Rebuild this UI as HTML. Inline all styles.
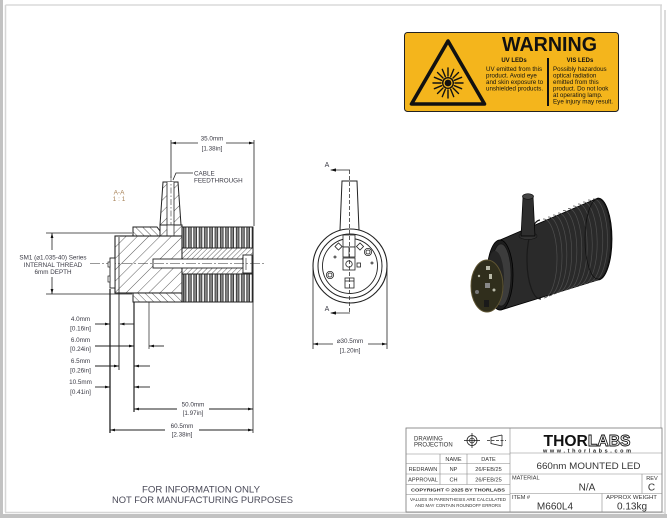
<!DOCTYPE html>
<html><head><meta charset="utf-8"><style>
html,body{margin:0;padding:0;background:#fff;}
svg{display:block}
text{font-family:"Liberation Sans",sans-serif;}
</style></head><body>
<svg width="667" height="518" viewBox="0 0 667 518" xmlns="http://www.w3.org/2000/svg">
<defs>
<pattern id="h1" width="8" height="8" patternUnits="userSpaceOnUse" patternTransform="rotate(45)"><rect width="8" height="8" fill="#fff"/><line x1="0" y1="0" x2="0" y2="8" stroke="#333" stroke-width="0.8"/></pattern>
<pattern id="h2" width="3.5" height="3.5" patternUnits="userSpaceOnUse" patternTransform="rotate(45)"><rect width="4" height="4" fill="#fff"/><line x1="0" y1="0" x2="0" y2="4" stroke="#333" stroke-width="0.8"/></pattern>
<pattern id="h3" width="5" height="5" patternUnits="userSpaceOnUse" patternTransform="rotate(-45)"><rect width="5" height="5" fill="#fff"/><line x1="0" y1="0" x2="0" y2="5" stroke="#333" stroke-width="0.8"/></pattern>
<pattern id="fin" x="182" y="0" width="5.3" height="20" patternUnits="userSpaceOnUse"><rect width="5.3" height="20" fill="#fff"/><rect x="1.2" y="-1" width="2.8" height="22" fill="#8a8a8a" stroke="#111" stroke-width="0.7"/></pattern>
</defs>

<!-- page frame -->
<rect x="0" y="0" width="3" height="518" fill="#c2c2c2"/>
<rect x="0" y="514" width="667" height="4" fill="#c2c2c2"/>
<line x1="5.5" y1="5" x2="662" y2="5" stroke="#dadada" stroke-width="1.5"/>
<line x1="5.5" y1="5" x2="5.5" y2="512" stroke="#d6d6d6" stroke-width="1.5"/>
<line x1="5" y1="512.5" x2="664" y2="512.5" stroke="#d6d6d6" stroke-width="1.5"/>
<line x1="661" y1="5" x2="661" y2="512" stroke="#d6d6d6" stroke-width="1.5"/>
<line x1="665" y1="10" x2="665" y2="514" stroke="#cfcfcf" stroke-width="1.5"/>

<!-- WARNING label -->
<rect x="404.5" y="32.5" width="214" height="79" rx="3" fill="#f4b51c" stroke="#222" stroke-width="1"/>
<polygon points="448,41 411.5,104 484.5,104" fill="none" stroke="#111" stroke-width="3.6" stroke-linejoin="round"/>
<g stroke="#111" stroke-width="1.4" stroke-linecap="round">
<line x1="448" y1="76" x2="448" y2="68"/><line x1="448" y1="90" x2="448" y2="98"/>
<line x1="441" y1="83" x2="433" y2="83"/><line x1="455" y1="83" x2="463" y2="83"/>
<line x1="443" y1="78" x2="437.5" y2="72.5"/><line x1="453" y1="78" x2="458.5" y2="72.5"/>
<line x1="443" y1="88" x2="437.5" y2="93.5"/><line x1="453" y1="88" x2="458.5" y2="93.5"/>
<line x1="445.3" y1="76.6" x2="442.3" y2="69.4"/><line x1="450.7" y1="76.6" x2="453.7" y2="69.4"/>
<line x1="445.3" y1="89.4" x2="442.3" y2="96.6"/><line x1="450.7" y1="89.4" x2="453.7" y2="96.6"/>
<line x1="441.6" y1="80.3" x2="434.4" y2="77.3"/><line x1="454.4" y1="80.3" x2="461.6" y2="77.3"/>
<line x1="441.6" y1="85.7" x2="434.4" y2="88.7"/><line x1="454.4" y1="85.7" x2="461.6" y2="88.7"/>
</g>
<circle cx="448" cy="83" r="6" fill="#111"/>
<circle cx="448" cy="83" r="4.6" fill="#f4b51c"/>
<circle cx="448" cy="83" r="3.4" fill="#111"/>
<text x="549.5" y="51" font-size="20.5" font-weight="bold" text-anchor="middle" textLength="95" lengthAdjust="spacingAndGlyphs" fill="#111">WARNING</text>
<line x1="548" y1="58" x2="548" y2="106" stroke="#111" stroke-width="2"/>
<text x="514" y="62" font-size="6" font-weight="bold" text-anchor="middle" fill="#111">UV LEDs</text>
<text x="580" y="62" font-size="6" font-weight="bold" text-anchor="middle" fill="#111">VIS LEDs</text>
<g font-size="6.2" fill="#111">
<text x="486" y="71">UV emitted from this</text>
<text x="486" y="77.5">product. Avoid eye</text>
<text x="486" y="84">and skin exposure to</text>
<text x="486" y="90.5">unshielded products.</text>
<text x="553" y="71">Possibly hazardous</text>
<text x="553" y="77.5">optical radiation</text>
<text x="553" y="84">emitted from this</text>
<text x="553" y="90.5">product. Do not look</text>
<text x="553" y="97">at operating lamp.</text>
<text x="553" y="103.5" textLength="60" lengthAdjust="spacingAndGlyphs">Eye injury may result.</text>
</g>

<!-- SECTION VIEW A-A -->
<g fill="#3a3a44" font-size="6.3">
<text x="212" y="140.5" text-anchor="middle">35.0mm</text>
<text x="212" y="150.5" text-anchor="middle">[1.38in]</text>
<text x="194" y="175.5">CABLE</text>
<text x="194" y="182.5">FEEDTHROUGH</text>
</g>
<text x="119" y="194.5" font-size="6.5" text-anchor="middle" fill="#a9845a">A-A</text>
<text x="119" y="201" font-size="6.5" text-anchor="middle" fill="#a9845a">1 : 1</text>
<g stroke="#222" stroke-width="0.8" fill="none">
<line x1="171" y1="140" x2="171" y2="178"/>
<line x1="254" y1="140" x2="254" y2="226"/>
<line x1="171" y1="143" x2="198" y2="143"/>
<line x1="226" y1="143" x2="254" y2="143"/>
<polyline points="193,173 176,173 173,180"/>
</g>
<polygon points="171,143 176,141.6 176,144.4" fill="#111"/>
<polygon points="254,143 249,141.6 249,144.4" fill="#111"/>

<!-- tube -->
<polygon points="163,182 178,182 181,225 160,225" fill="url(#h1)" stroke="#222" stroke-width="1"/>
<rect x="167" y="182" width="7" height="43" fill="#fff"/>
<line x1="167" y1="182" x2="167" y2="236" stroke="#222" stroke-width="0.8"/>
<line x1="174" y1="182" x2="174" y2="236" stroke="#222" stroke-width="0.8"/>
<line x1="171" y1="176" x2="171" y2="236" stroke="#333" stroke-width="0.6" stroke-dasharray="6,2,1.5,2"/>
<rect x="160" y="225" width="22" height="11" fill="url(#h1)" stroke="#222" stroke-width="1"/>
<rect x="167" y="225" width="7" height="11" fill="#fff" stroke="#222" stroke-width="0.7"/>
<!-- top ring -->
<polygon points="133,227 157,227 160,231 160,236 133,236" fill="url(#h3)" stroke="#222" stroke-width="1"/>
<!-- main block -->
<rect x="115" y="236" width="67" height="57" fill="url(#h1)" stroke="#222" stroke-width="1.1"/>
<line x1="119" y1="237" x2="119" y2="292" stroke="#222" stroke-width="0.8"/>
<!-- bottom ring -->
<rect x="133" y="293" width="49" height="9" fill="url(#h3)" stroke="#222" stroke-width="1"/>
<!-- heat sink -->
<rect x="182" y="227" width="71" height="21" fill="url(#fin)"/>
<rect x="182" y="274" width="71" height="28" fill="url(#fin)"/>
<rect x="182" y="248" width="71" height="26" fill="url(#h2)" stroke="#222" stroke-width="1"/>
<rect x="182" y="227" width="71" height="75" fill="none" stroke="#222" stroke-width="1"/>
<!-- screw -->
<rect x="153" y="259" width="90" height="9" fill="#fff" stroke="#222" stroke-width="0.9"/>
<rect x="243" y="255" width="9" height="18" fill="#fff" stroke="#222" stroke-width="0.9"/>
<line x1="246" y1="258" x2="246" y2="270" stroke="#222" stroke-width="0.6"/>
<line x1="90" y1="263.5" x2="266" y2="263.5" stroke="#333" stroke-width="0.6" stroke-dasharray="10,2,2,2"/>
<!-- LED board -->
<rect x="110" y="258" width="5" height="30" fill="#fff" stroke="#222" stroke-width="0.9"/>
<rect x="108" y="262" width="2" height="5" fill="#fff" stroke="#222" stroke-width="0.7"/>
<rect x="108" y="276" width="2" height="6" fill="#fff" stroke="#222" stroke-width="0.7"/>

<!-- SM1 dim -->
<g stroke="#222" stroke-width="0.8">
<line x1="46" y1="233" x2="132" y2="233"/>
<line x1="46" y1="294" x2="132" y2="294"/>
<line x1="52" y1="233" x2="52" y2="250"/>
<line x1="52" y1="277" x2="52" y2="294"/>
</g>
<polygon points="52,233 50.6,238 53.4,238" fill="#111"/>
<polygon points="52,294 50.6,289 53.4,289" fill="#111"/>
<g fill="#3a3a44" font-size="6.3" text-anchor="middle">
<text x="53" y="259.5">SM1 (⌀1.035-40) Series</text>
<text x="53" y="266.8">INTERNAL THREAD</text>
<text x="53" y="274">6mm DEPTH</text>
</g>

<!-- bottom dims -->
<g stroke="#222" stroke-width="0.9">
<line x1="110" y1="289" x2="110" y2="433" stroke-width="1.3"/>
<line x1="119" y1="292" x2="119" y2="370"/>
<line x1="134" y1="302" x2="134" y2="412" stroke-width="1.2"/>
<line x1="149" y1="302" x2="149" y2="349" stroke-width="0.7"/>
<line x1="253" y1="302" x2="253" y2="433" stroke-width="0.8"/>
<line x1="95" y1="324" x2="110" y2="324"/>
<line x1="120" y1="324" x2="134" y2="324"/>
<line x1="95" y1="346" x2="134" y2="346"/>
<line x1="149" y1="346" x2="164" y2="346"/>
<line x1="95" y1="366" x2="119" y2="366"/>
<line x1="134" y1="366" x2="150" y2="366"/>
<line x1="95" y1="387" x2="110" y2="387"/>
<line x1="134" y1="387" x2="150" y2="387"/>
<line x1="134" y1="409" x2="177" y2="409"/>
<line x1="209" y1="409" x2="253" y2="409"/>
<line x1="110" y1="430" x2="165" y2="430"/>
<line x1="199" y1="430" x2="253" y2="430"/>
</g>
<g fill="#111">
<polygon points="110,324 105,322.6 105,325.4"/>
<polygon points="119.5,324 124.5,322.6 124.5,325.4"/>
<polygon points="134,346 129,344.6 129,347.4"/>
<polygon points="149,346 154,344.6 154,347.4"/>
<polygon points="119,366 114,364.6 114,367.4"/>
<polygon points="134,366 139,364.6 139,367.4"/>
<polygon points="110,387 105,385.6 105,388.4"/>
<polygon points="134,387 139,385.6 139,388.4"/>
<polygon points="134,409 139,407.6 139,410.4"/>
<polygon points="253,409 248,407.6 248,410.4"/>
<polygon points="110,430 115,428.6 115,431.4"/>
<polygon points="253,430 248,428.6 248,431.4"/>
</g>
<g fill="#3a3a44" font-size="6.3" text-anchor="middle">
<text x="80.5" y="321">4.0mm</text><text x="80.5" y="330.5">[0.16in]</text>
<text x="80.5" y="342">6.0mm</text><text x="80.5" y="351">[0.24in]</text>
<text x="80.5" y="363">6.5mm</text><text x="80.5" y="372.5">[0.26in]</text>
<text x="80.5" y="384">10.5mm</text><text x="80.5" y="394">[0.41in]</text>
<text x="193" y="406.5">50.0mm</text><text x="193" y="415">[1.97in]</text>
<text x="182" y="428">60.5mm</text><text x="182" y="436.5">[2.38in]</text>
</g>

<!-- FRONT VIEW -->
<text x="327" y="167" font-size="7" text-anchor="middle" fill="#3a3a44">A</text>
<text x="327" y="311" font-size="7" text-anchor="middle" fill="#3a3a44">A</text>
<g stroke="#222" stroke-width="0.8" fill="none">
<line x1="331" y1="170" x2="350" y2="170"/>
<line x1="331" y1="313" x2="350" y2="313"/>
</g>
<polygon points="330,170 336,168.4 336,171.6" fill="#111"/>
<polygon points="330,313 336,311.4 336,314.6" fill="#111"/>
<polygon points="342,181 357,181 359,230 340,230" fill="#fff" stroke="#222" stroke-width="1"/>
<circle cx="350" cy="266" r="37" fill="#fff" stroke="#222" stroke-width="1.1"/>
<circle cx="350" cy="266" r="32" fill="#fff" stroke="#222" stroke-width="1"/>
<circle cx="350" cy="266" r="27.5" fill="#fff" stroke="#222" stroke-width="0.9"/>
<g stroke="#222" stroke-width="0.8" fill="#fff">
<rect x="343" y="235" width="12" height="12"/>
<rect x="343" y="247" width="12" height="10"/>
<line x1="349" y1="247" x2="349" y2="257"/>
<rect x="336" y="244" width="5" height="5" transform="rotate(45 338.5 246.5)"/>
<rect x="357.5" y="244" width="5" height="5" transform="rotate(45 360 246.5)"/>
<circle cx="368" cy="252" r="3.6"/><circle cx="368" cy="252" r="2"/>
<circle cx="330" cy="275" r="3.6"/><circle cx="330" cy="275" r="2"/>
<rect x="343" y="258" width="12" height="12"/>
<circle cx="349" cy="264" r="3.2"/>
<rect x="357" y="263" width="3.5" height="4"/>
<circle cx="335" cy="257" r="1"/>
<circle cx="372" cy="263" r="1"/>
<rect x="345" y="278" width="9" height="10"/>
<line x1="345" y1="281" x2="354" y2="281"/>
</g>
<line x1="349.5" y1="170" x2="349.5" y2="313" stroke="#333" stroke-width="0.8" stroke-dasharray="4,2"/>
<g stroke="#222" stroke-width="0.8">
<line x1="313" y1="268" x2="313" y2="349"/>
<line x1="387" y1="268" x2="387" y2="349"/>
<line x1="313" y1="344" x2="333" y2="344"/>
<line x1="368" y1="344" x2="387" y2="344"/>
</g>
<polygon points="313,344 318,342.6 318,345.4" fill="#111"/>
<polygon points="387,344 382,342.6 382,345.4" fill="#111"/>
<text x="350" y="343" font-size="6.3" text-anchor="middle" fill="#3a3a44">⌀30.5mm</text>
<text x="350" y="352.5" font-size="6.3" text-anchor="middle" fill="#3a3a44">[1.20in]</text>

<!-- 3D render -->
<path d="M500,240 L598,198 A14,41 0 0 1 598,280 L501,310 A13,35 0 0 1 500,240 Z" fill="#2a2a2a" stroke="#000" stroke-width="0.8"/>
<g stroke="#4e4e4e" stroke-width="0.7" fill="none">
<path d="M543,219 A13,38 0 0 1 544,298"/>
<path d="M548,217 A13,38 0 0 1 549,296"/>
<path d="M553,215 A13,38.5 0 0 1 554,294"/>
<path d="M558,213 A13,39 0 0 1 559,292"/>
<path d="M563,210.5 A13,39 0 0 1 564,290.5"/>
<path d="M568,208.5 A13,39.5 0 0 1 569,289"/>
<path d="M573,206 A13.5,40 0 0 1 574,287"/>
<path d="M578,204 A13.5,40 0 0 1 579,285.5"/>
<path d="M583,202 A13.5,40.5 0 0 1 584,284"/>
<path d="M588,200 A14,40.5 0 0 1 589,282.5"/>
<path d="M593,199 A14,41 0 0 1 594,281"/>
</g>
<ellipse cx="598" cy="239" rx="13" ry="40" fill="none" stroke="#111" stroke-width="0.8"/>
<path d="M540,220 A13,38 0 0 0 541,299" fill="none" stroke="#1a1a1a" stroke-width="1.2"/>
<!-- tube -->
<ellipse cx="528" cy="236" rx="9" ry="3.5" fill="#333" stroke="#111" stroke-width="0.6"/>
<polygon points="521,236 523,197 533,196 535,236" fill="#2e2e2e" stroke="#000" stroke-width="0.7"/>
<ellipse cx="528" cy="196.5" rx="5.5" ry="2.8" fill="#454545" stroke="#111" stroke-width="0.7"/>
<!-- front collar -->
<ellipse cx="500" cy="275" rx="13" ry="35" fill="#1c1c1c" stroke="#000" stroke-width="0.8"/>
<ellipse cx="501" cy="275" rx="10" ry="31" fill="#3c3c3c" stroke="#111" stroke-width="0.6"/>
<ellipse cx="495" cy="279" rx="9" ry="28" fill="#252525"/>
<!-- board -->
<ellipse cx="487" cy="286" rx="16" ry="26" fill="#302e1c" stroke="#5e5432" stroke-width="1"/>
<g fill="#b9b9a8">
<rect x="486" y="266" width="4" height="4"/>
<rect x="489" y="274" width="3" height="5"/>
<rect x="485" y="283" width="5" height="5" fill="#888"/>
<circle cx="479" cy="276" r="1.2"/>
<circle cx="494" cy="290" r="1.5"/>
<circle cx="477" cy="292" r="2" fill="#777"/>
<rect x="484" y="300" width="5" height="7" fill="#1a1a1a"/>
</g>

<!-- bottom note -->
<g fill="#4a4a58" font-size="9" text-anchor="middle">
<text x="201" y="492.5" textLength="118" lengthAdjust="spacingAndGlyphs">FOR INFORMATION ONLY</text>
<text x="202.5" y="503" textLength="181" lengthAdjust="spacingAndGlyphs">NOT FOR MANUFACTURING PURPOSES</text>
</g>

<!-- TITLE BLOCK -->
<rect x="406" y="428" width="256" height="84" fill="#fff" stroke="#777" stroke-width="0.8"/>
<g stroke="#888" stroke-width="0.6">
<line x1="510" y1="428" x2="510" y2="512"/>
<line x1="406" y1="454" x2="510" y2="454"/>
<line x1="406" y1="463.5" x2="510" y2="463.5"/>
<line x1="406" y1="474" x2="510" y2="474"/>
<line x1="406" y1="484.5" x2="510" y2="484.5"/>
<line x1="406" y1="494.5" x2="510" y2="494.5"/>
<line x1="440" y1="454" x2="440" y2="484.5"/>
<line x1="467" y1="454" x2="467" y2="484.5"/>
<line x1="510" y1="453" x2="662" y2="453"/>
<line x1="510" y1="474" x2="662" y2="474"/>
<line x1="510" y1="493.5" x2="662" y2="493.5"/>
<line x1="642" y1="474" x2="642" y2="493.5"/>
<line x1="602" y1="493.5" x2="602" y2="512"/>
</g>
<g fill="#333" font-size="6">
<text x="414" y="440.5">DRAWING</text>
<text x="414" y="446.5">PROJECTION</text>
</g>
<g stroke="#222" stroke-width="0.8" fill="none">
<circle cx="472" cy="440.5" r="5"/>
<circle cx="472" cy="440.5" r="2.4"/>
<line x1="464" y1="440.5" x2="480" y2="440.5"/>
<line x1="472" y1="433" x2="472" y2="448"/>
<polyline points="502,435 491,437.5 491,443.5 502,446"/>
<line x1="502" y1="435" x2="502" y2="446"/>
<line x1="487" y1="440.5" x2="506" y2="440.5" stroke-dasharray="3,1.5"/>
</g>
<g fill="#333" font-size="5.6" text-anchor="middle">
<text x="453.5" y="461">NAME</text>
<text x="488.5" y="461">DATE</text>
<text x="423" y="471">REDRAWN</text>
<text x="453.5" y="471">NP</text>
<text x="488.5" y="471">26/FEB/25</text>
<text x="423" y="481.5">APPROVAL</text>
<text x="453.5" y="481.5">CH</text>
<text x="488.5" y="481.5">26/FEB/25</text>
<text x="458" y="491.5" font-size="4.6" font-weight="bold" textLength="94" lengthAdjust="spacingAndGlyphs">COPYRIGHT © 2025 BY THORLABS</text>
<text x="458" y="501" font-size="4.4" textLength="96" lengthAdjust="spacingAndGlyphs">VALUES IN PARENTHESIS ARE CALCULATED</text>
<text x="458" y="507" font-size="4.4" textLength="86" lengthAdjust="spacingAndGlyphs">AND MAY CONTAIN ROUNDOFF ERRORS</text>
</g>
<text x="587" y="446" font-size="16" font-weight="bold" text-anchor="middle" textLength="87" lengthAdjust="spacingAndGlyphs"><tspan fill="#111">THOR</tspan><tspan fill="#fff" stroke="#111" stroke-width="0.9">LABS</tspan></text>
<text x="587" y="452.5" font-size="5.5" font-weight="bold" text-anchor="middle" textLength="88" lengthAdjust="spacing" fill="#222">www.thorlabs.com</text>
<text x="588.5" y="469" font-size="9.5" text-anchor="middle" textLength="104" lengthAdjust="spacingAndGlyphs" fill="#333">660nm MOUNTED LED</text>
<g fill="#333" font-size="5.6">
<text x="512" y="479.5">MATERIAL</text>
<text x="512" y="499">ITEM #</text>
<text x="652" y="480" text-anchor="middle">REV</text>
<text x="631.5" y="499" text-anchor="middle" textLength="51" lengthAdjust="spacingAndGlyphs">APPROX WEIGHT</text>
</g>
<g fill="#333" font-size="10" text-anchor="middle">
<text x="587" y="490.5">N/A</text>
<text x="651.5" y="490.5">C</text>
<text x="555" y="509.5">M660L4</text>
<text x="632" y="509.5">0.13kg</text>
</g>
</svg>
</body></html>
